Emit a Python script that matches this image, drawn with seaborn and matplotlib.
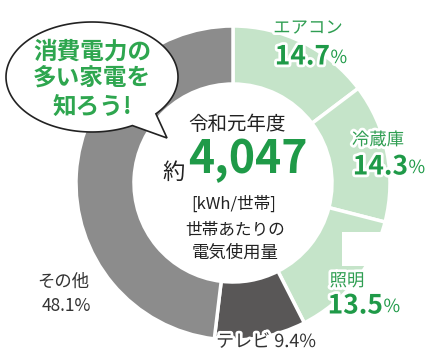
import numpy as np
import seaborn as sns
import matplotlib.pyplot as plt
from matplotlib.patches import Polygon, Rectangle
import matplotlib.patheffects as pe

categories = ["エアコン", "冷蔵庫", "照明", "テレビ", "その他"]
shares = [14.7, 14.3, 13.5, 9.4, 48.1]
total_kwh = "4,047"
bubble_lines = ["消費電力の", "多い家電を", "知ろう!"]
center_lines = ["令和元年度", "[kWh/世帯]", "世帯あたりの", "電気使用量"]

sns.set_style("white")
plt.rcParams["font.family"] = ["Noto Sans CJK JP", "DejaVu Sans"]

light_green = "#c5e4c9"
ring_colors = [light_green, light_green, light_green, "#595757", "#8c8c8c"]
green = "#1f9a48"
label_green = "#2f9e52"
dark = "#333333"

fig = plt.figure(figsize=(4.36, 3.6), dpi=100)
ax = fig.add_axes([0, 0, 1, 1])

# image-like coordinates: y grows downward
ax.pie(shares, colors=ring_colors, center=(233, 183), radius=157,
       startangle=270, counterclock=True,
       wedgeprops=dict(width=58, edgecolor="white", linewidth=2.5))
ax.set_xlim(0, 436)
ax.set_ylim(360, 0)
ax.set_aspect("equal")
ax.axis("off")

# white cut-out behind the lighting label
ax.add_patch(Rectangle((342, 232), 62, 34, facecolor="white", edgecolor="none", zorder=3))

halo = [pe.withStroke(linewidth=4, foreground="white")]

# green segment labels: (name xy, number split x, number y)
green_pos = [((308, 28), 330, 57), ((378, 140), 408, 167), ((347, 281), 383, 306)]
for i, ((nx, ny), sx, sy) in enumerate(green_pos):
    ax.text(nx, ny, categories[i], ha="center", va="center", fontsize=12.5,
            color=label_green, zorder=6, path_effects=halo)
    ax.text(sx, sy, f"{shares[i]}", ha="right", va="center", fontsize=19,
            fontweight="bold", color=green, zorder=6, path_effects=halo)
    ax.text(sx + 0.5, sy + 1, "%", ha="left", va="center", fontsize=13,
            color=green, zorder=6, path_effects=halo)

ax.text(266, 342, f"{categories[3]} {shares[3]}%", ha="center", va="center",
        fontsize=13, color=dark, zorder=6, path_effects=halo)
ax.text(63, 282, categories[4], ha="center", va="center", fontsize=12.5,
        color=dark, zorder=6)
ax.text(66, 306, f"{shares[4]}%", ha="center", va="center", fontsize=12.5,
        color=dark, zorder=6)

# centre text
ax.text(237, 124, center_lines[0], ha="center", va="center", fontsize=14,
        color="#222222", zorder=6)
ax.text(174, 172, "約", ha="center", va="center", fontsize=16, color="#222222", zorder=6)
ax.text(248, 160, total_kwh, ha="center", va="center", fontsize=32,
        fontweight="bold", color=green, zorder=6)
ax.text(234, 204, center_lines[1], ha="center", va="center", fontsize=12,
        color="#222222", zorder=6)
ax.text(235, 230, center_lines[2], ha="center", va="center", fontsize=12,
        color="#222222", zorder=6)
ax.text(235, 253, center_lines[3], ha="center", va="center", fontsize=12.5,
        color="#222222", zorder=6)

# speech bubble
cx, cy, a, b = 92, 77, 86, 55
t = np.radians(np.linspace(62, 42 + 360, 200))
pts = np.column_stack([cx + a * np.cos(t), cy + b * np.sin(t)])
pts = np.vstack([pts, [167, 138]])
ax.add_patch(Polygon(pts, closed=True, facecolor="white", edgecolor="#222222",
                     linewidth=1.2, zorder=5))
for line, y in zip(bubble_lines, [52, 78, 108]):
    ax.text(92, y, line, ha="center", va="center", fontsize=17,
            fontweight="bold", color="#2ea64f", zorder=6)

fig.savefig("out.png", dpi=100)
